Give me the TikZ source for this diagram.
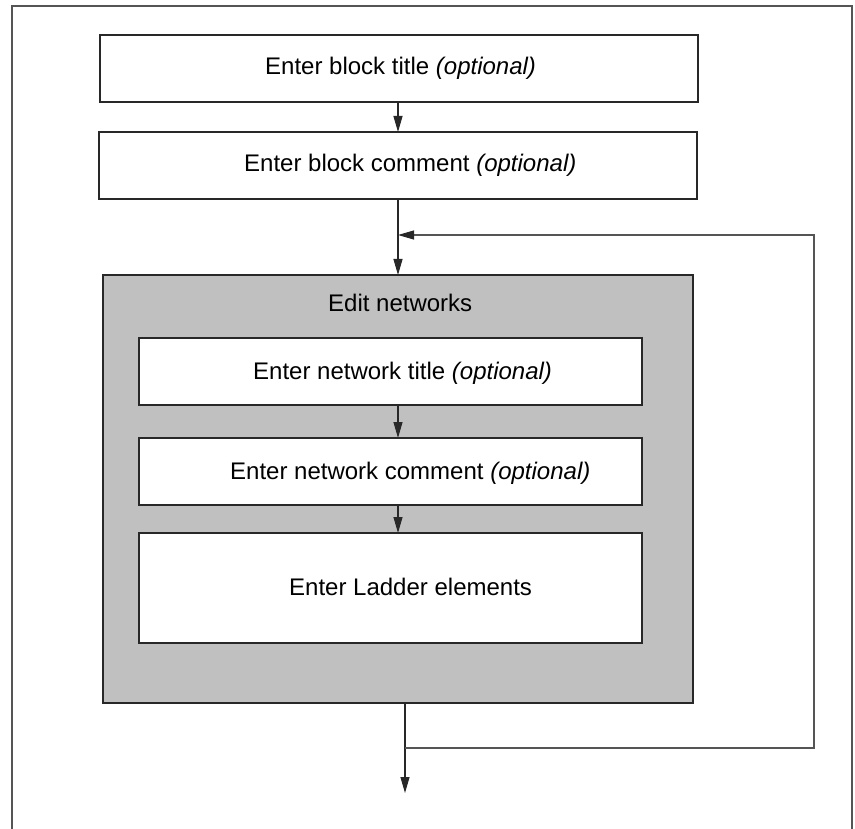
\documentclass[tikz,border=0pt]{standalone}
\usepackage{fontspec}
\setmainfont{Liberation Sans}
\usetikzlibrary{arrows.meta}
\definecolor{panelgray}{RGB}{192,192,192}
\definecolor{framegray}{RGB}{85,85,85}
\definecolor{edgegray}{RGB}{40,40,40}
\tikzset{
  box/.style={draw=edgegray, line width=1.1pt, fill=white, inner sep=0pt,
              outer sep=0pt, anchor=north west},
  panel/.style={box, fill=panelgray},
  txt/.style={anchor=base west, inner sep=0pt, font=\fontsize{24}{28}\selectfont},
  flow/.style={draw=edgegray, line width=1.1pt,
               -{Triangle[length=16pt,width=9pt]}},
  loopline/.style={draw=framegray, line width=1.1pt,
               -{Triangle[length=16pt,width=9pt,color=edgegray]}}
}
\begin{document}
\begin{tikzpicture}[x=1pt, y=-1pt]
\useasboundingbox (0,0) rectangle (855,829);
\fill[white] (0,0) rectangle (855,829);

% outer frame (open at the bottom)
\draw[framegray, line width=1.3pt] (12,829) -- (12,6) -- (852,6) -- (852,829);

% block level boxes
\node[box, minimum width=598pt, minimum height=67pt] (btitle) at (100,35) {};
\node[box, minimum width=598pt, minimum height=67pt] (bcomment) at (99,132) {};

% network editing panel with its three steps
\node[panel, minimum width=590pt, minimum height=428pt] (net) at (103,275) {};
\node[box, minimum width=503pt, minimum height=67pt] (ntitle) at (139,338) {};
\node[box, minimum width=503pt, minimum height=67pt] (ncomment) at (139,438) {};
\node[box, minimum width=503pt, minimum height=110pt] (ladder) at (139,533) {};

% labels
\node[txt] (tbt) at (265,75) {Enter block title \textit{(optional)}};
\node[txt] (tbc) at (244,172) {Enter block comment \textit{(optional)}};
\node[txt] (ten) at (328,312) {Edit networks};
\node[txt] (tnt) at (253,380) {Enter network title \textit{(optional)}};
\node[txt] (tnc) at (230,479) {Enter network comment \textit{(optional)}};
\node[txt] (tle) at (289,595) {Enter Ladder elements};

% helper coordinates for the flow lines
\coordinate (ax) at (398,0);
\coordinate (ex) at (405,0);
\coordinate (join) at (398,235);
\coordinate (split) at (405,748);
\coordinate (rx) at (814,0);
\coordinate (exit) at (405,793);

% main flow
\draw[flow] (btitle.south -| ax) -- (bcomment.north -| ax);
\draw[flow] (bcomment.south -| ax) -- (net.north -| ax);
\draw[flow] (ntitle.south -| ax) -- (ncomment.north -| ax);
\draw[flow] (ncomment.south -| ax) -- (ladder.north -| ax);
\draw[flow] (net.south -| ex) -- (exit);

% return loop to the next network
\draw[loopline] (split) -- (split -| rx) -- (rx |- join) -- (join);
\end{tikzpicture}
\end{document}
